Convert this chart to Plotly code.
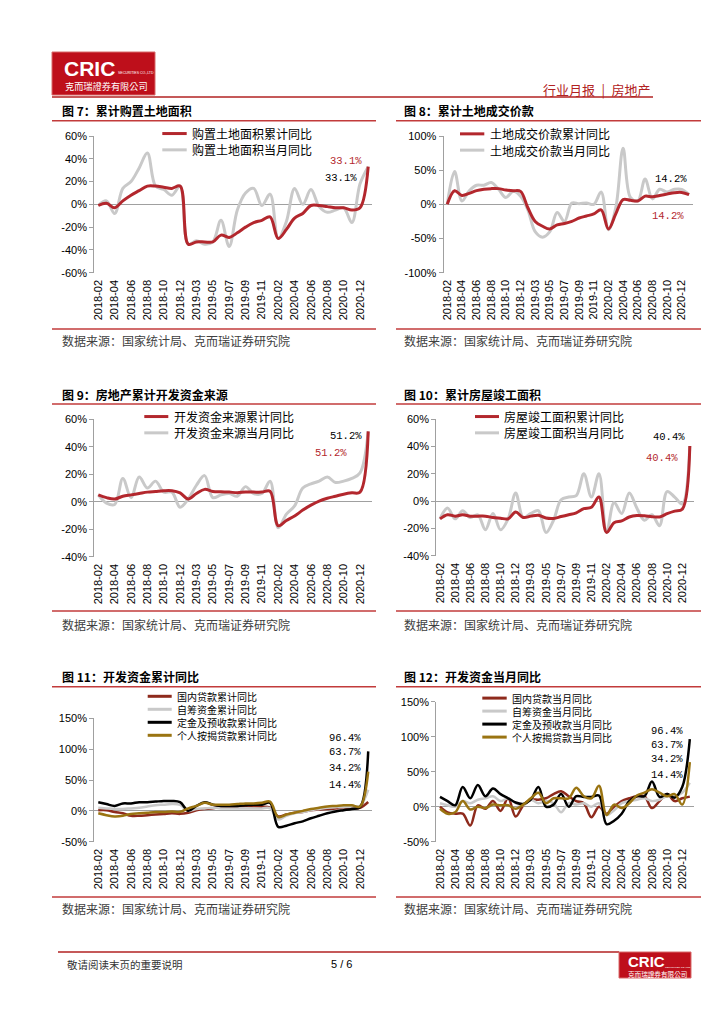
import plotly.graph_objects as go

# The page body adds an 8px offset; the figure canvas therefore covers 8..716 x 8..1016 of the window.
OX, OY = 8, 8
W, H = 708, 1008

months = ["2018-02", "2018-03", "2018-04", "2018-05", "2018-06", "2018-07", "2018-08", "2018-09",
          "2018-10", "2018-11", "2018-12",
          "2019-02", "2019-03", "2019-04", "2019-05", "2019-06", "2019-07", "2019-08", "2019-09",
          "2019-10", "2019-11", "2019-12",
          "2020-02", "2020-03", "2020-04", "2020-05", "2020-06", "2020-07", "2020-08", "2020-09",
          "2020-10", "2020-11", "2020-12",
          "2021-02"]
tick_months = months[0:33:2]

# Fig 7
c7_cum = [-1, 1, -3, 3, 8, 12, 16, 16, 15, 14, 16,
          -35, -33, -33, -33, -27, -29, -25, -20, -16, -14, -11,
          -30, -22, -12, -8, -1, -1, -2, -3, -3, -5, -3,
          33.1]
c7_mon = [-1, 3, -8, 14, 20, 32, 45, 16, 13, 8, 16,
          -35, -32, -35, -33, -14, -37, -5, 10, 14, -1, 9,
          -30, -15, 14, 0, 13, -2, -7, -5, -3, -16, 18,
          33.1]
# Fig 8
c8_cum = [0, 20, 13, 16, 20, 22, 23, 23, 21, 20, 19,
          -5, -25, -32, -36, -30, -28, -25, -20, -17, -14, -8,
          -36, -14, 7, 6, 5, 12, 11, 13, 15, 17, 17.4,
          14.2]
c8_mon = [0, 48, 5, 20, 28, 28, 32, 22, 10, 19, 12,
          -8, -40, -48, -40, -12, -25, 2, 1, 2, 0, 18,
          -37, -5, 82, 10, 5, 37, 8, 22, 18, 22, 22,
          14.2]
# Fig 9
c9_cum = [5, 3, 2, 4, 5, 6, 7, 7.5, 8, 8, 6.4,
          2, 6, 9, 7.5, 7.2, 7, 6.6, 7.1, 7, 7, 7.6,
          -17.5, -13.6, -10.4, -6.1, -2.5, 0.5, 2.5, 4, 5.5, 6.5, 7,
          51.2]
c9_mon = [5, -1, -2, 17, 3, 18, 10, 15, 7, 7, -4,
          2, 12, 19, 3, 5, 6, 4, 11, 6, 6, 15,
          -19, -9, -3, 10, 13, 15, 18, 14, 15, 17, 21,
          51.2]
# Fig 10
c10_cum = [-13, -10, -11, -10, -11, -11, -11, -12, -12.5, -13, -8,
           -12, -11, -10.3, -12.4, -12.7, -11.3, -10, -8.6, -5.5, -4.5, 3,
           -22.9, -15.8, -14.5, -11.6, -10.5, -10.7, -11.4, -11.6, -9.2, -7.3, -6,
           40.4]
c10_mon = [-13, -5, -13, -7, -12, -10, -21, -9, -21, -13, 6,
           -12, -9, -7, -23, -14, 1, 3, 4, 20, 3, 20,
           -23, -1, -9, 6, -5, -14, -10, -18, 7, 3, -2,
           40.4]
# Fig 11
c11_dom = [1, 1, -2, -4, -8, -8, -7, -6, -5, -4, -4.9,
           -3, 1, 3, 4, 7, 6, 7, 7.8, 7.5, 6.8, 5.1,
           -9, -6, -3, -2, 1, 2, 3, 4, 4, 4, 5,
           14.4]
c11_self = [5, 4, 3, 3, 4, 5, 7, 9, 10, 11, 9.7,
            0, 3, 4, 5, 4, 4, 4, 4, 4, 4, 4.2,
            -14, -8, -4, -2, 1, 3, 5, 6, 6, 7, 8,
            34.2]
c11_dep = [14, 11, 8, 12, 12, 14, 14, 15, 16, 16, 14,
           0, 8, 14, 10, 8, 8, 8, 9, 10, 10, 13,
           -26, -24, -20, -17, -12, -8, -4, -1, 1, 3, 6,
           96.4]
c11_mort = [-4, -7, -9, -8, -5, -4, -3, -2, -2, -1, -1.6,
            4, 8, 13, 10, 10, 10, 11, 12, 12, 13, 15,
            -10, -6, -3, 0, 3, 5, 7, 8, 9, 9, 7,
            63.7]
# Fig 12
c12_dom = [0, -8, -10, -10, -27, 2, -3, 8, -6, 12, -14,
           2, 10, 10, 12, 18, 22, 15, 8, 5, -15, 0,
           -10, 0, 8, 12, 15, 15, -2, 8, 18, 8, 12,
           14.4]
c12_self = [5, 2, 0, 8, 5, 10, 12, 15, 8, 12, 5,
            2, 10, 5, 8, 5, -8, 5, 3, 5, 0, 5,
            -12, -5, 5, 8, 10, 12, 8, 10, 15, 15, 20,
            34.2]
c12_dep = [14, 8, 2, 28, 12, 31, 15, 26, 18, 12, 6,
           4, 10, 28, 0, 3, 18, 0, 15, 14, 14, 16,
           -25, -20, -10, 8, 15, 15, 36, 14, 18, 13, 28,
           96.4]
c12_mort = [-3, -10, -8, 8, -4, 0, -2, 3, 2, 2, -3,
            3, 12, 20, 5, 12, 12, 12, 27, 15, 12, 30,
            -12, 3, -2, 5, 16, 20, 25, 20, 15, 18, 3,
            63.7]

RED = "#B3272D"
GRAY = "#C9C9C9"
DOMRED = "#8E2A1C"
BLACK = "#000000"
GOLD = "#9A7412"
AXIS = "#A0A0A0"
LINE_RED = "#C23B3B"
CJK = "Noto Sans CJK SC"
SANS = "Liberation Sans"
MONO = "Liberation Mono"


def px(x):
    return (x - OX) / W


def py(y):
    return 1 - (y - OY) / H


charts = [
    dict(x0=94.2, x1=372.3, yt=136.0, yb=272.7, rng=[-60, 60], ticks=[60, 40, 20, 0, -20, -40, -60],
         series=[(c7_mon, GRAY, 3, "购置土地面积当月同比"), (c7_cum, RED, 3, "购置土地面积累计同比")],
         legend=[("购置土地面积累计同比", RED), ("购置土地面积当月同比", GRAY)], leg_mid=141.7, leg_fs=12,
         leg_x=(162.3, 186.7, 190.0),
         labels=[("33.1%", RED, 345.5, 161.0), ("33.1%", BLACK, 341.0, 178.3)]),
    dict(x0=443.6, x1=692.7, yt=136.0, yb=272.7, rng=[-100, 100], ticks=[100, 50, 0, -50, -100],
         series=[(c8_mon, GRAY, 3, "土地成交价款当月同比"), (c8_cum, RED, 3, "土地成交价款累计同比")],
         legend=[("土地成交价款累计同比", RED), ("土地成交价款当月同比", GRAY)], leg_mid=142.0, leg_fs=12,
         leg_x=(460.0, 484.3, 488.3),
         labels=[("14.2%", BLACK, 671.0, 179.0), ("14.2%", RED, 667.5, 216.0)]),
    dict(x0=94.2, x1=372.3, yt=419.3, yb=556.7, rng=[-40, 60], ticks=[60, 40, 20, 0, -20, -40],
         series=[(c9_mon, GRAY, 3, "开发资金来源当月同比"), (c9_cum, RED, 3, "开发资金来源累计同比")],
         legend=[("开发资金来源累计同比", RED), ("开发资金来源当月同比", GRAY)], leg_mid=424.7, leg_fs=12,
         leg_x=(144.3, 168.3, 172.3),
         labels=[("51.2%", BLACK, 345.5, 435.7), ("51.2%", RED, 331.0, 453.3)]),
    dict(x0=436.2, x1=693.6, yt=419.3, yb=555.7, rng=[-40, 60], ticks=[60, 40, 20, 0, -20, -40],
         series=[(c10_mon, GRAY, 3, "房屋竣工面积当月同比"), (c10_cum, RED, 3, "房屋竣工面积累计同比")],
         legend=[("房屋竣工面积累计同比", RED), ("房屋竣工面积当月同比", GRAY)], leg_mid=424.7, leg_fs=12,
         leg_x=(475.0, 499.0, 501.7),
         labels=[("40.4%", BLACK, 668.5, 437.3), ("40.4%", RED, 661.7, 457.7)]),
    dict(x0=94.2, x1=372.3, yt=718.3, yb=841.7, rng=[-50, 150], ticks=[150, 100, 50, 0, -50],
         series=[(c11_dom, DOMRED, 2.5, "国内贷款累计同比"), (c11_self, GRAY, 2.5, "自筹资金累计同比"),
                 (c11_dep, BLACK, 2.5, "定金及预收款累计同比"), (c11_mort, GOLD, 2.5, "个人按揭贷款累计同比")],
         legend=[("国内贷款累计同比", DOMRED), ("自筹资金累计同比", GRAY),
                 ("定金及预收款累计同比", BLACK), ("个人按揭贷款累计同比", GOLD)], leg_mid=715.8, leg_fs=10,
         leg_x=(147.7, 171.7, 175.0),
         labels=[("96.4%", BLACK, 344.5, 738.3), ("63.7%", BLACK, 344.5, 751.7),
                 ("34.2%", BLACK, 344.5, 767.7), ("14.4%", BLACK, 344.5, 785.0)]),
    dict(x0=436.2, x1=693.6, yt=701.7, yb=841.7, rng=[-50, 150], ticks=[150, 100, 50, 0, -50],
         series=[(c12_dom, DOMRED, 2.5, "国内贷款当月同比"), (c12_self, GRAY, 2.5, "自筹资金当月同比"),
                 (c12_dep, BLACK, 2.5, "定金及预收款当月同比"), (c12_mort, GOLD, 2.5, "个人按揭贷款当月同比")],
         legend=[("国内贷款当月同比", DOMRED), ("自筹资金当月同比", GRAY),
                 ("定金及预收款当月同比", BLACK), ("个人按揭贷款当月同比", GOLD)], leg_mid=717.6, leg_fs=10,
         leg_x=(482.3, 506.7, 510.0),
         labels=[("96.4%", BLACK, 666.7, 730.7), ("63.7%", BLACK, 666.7, 745.0),
                 ("34.2%", BLACK, 666.7, 759.3), ("14.4%", BLACK, 666.7, 775.0)]),
]

titles = [("图 7：累计购置土地面积", 60, 110.7), ("图 8：累计土地成交价款", 401.7, 110.7),
          ("图 9：房地产累计开发资金来源", 60, 394.0), ("图 10：累计房屋竣工面积", 401.7, 394.0),
          ("图 11：开发资金累计同比", 60, 676.7), ("图 12：开发资金当月同比", 401.7, 676.7)]
source_text = "数据来源：国家统计局、克而瑞证券研究院"

fig = go.Figure()
shapes = []
annotations = []
layout = dict(width=W, height=H, margin=dict(l=0, r=0, t=0, b=0),
              paper_bgcolor="white", plot_bgcolor="white", showlegend=False)

for i, c in enumerate(charts, start=1):
    xa = "x" if i == 1 else f"x{i}"
    ya = "y" if i == 1 else f"y{i}"
    for vals, color, width, name in c["series"]:
        fig.add_trace(go.Scatter(x=months, y=vals, mode="lines", name=name,
                                 line=dict(color=color, width=width, shape="spline", smoothing=1.0),
                                 xaxis=xa, yaxis=ya, hoverinfo="skip"))
    layout["xaxis" if i == 1 else f"xaxis{i}"] = dict(
        type="category", categoryorder="array", categoryarray=months,
        range=[-0.5, len(months) - 0.5], domain=[px(c["x0"]), px(c["x1"])], anchor=ya,
        tickmode="array", tickvals=tick_months, ticktext=tick_months, tickangle=-90,
        tickfont=dict(family=SANS, size=11, color="#000"), ticks="", showline=False,
        showgrid=False, zeroline=False, automargin=False, ticklabelstandoff=4)
    layout["yaxis" if i == 1 else f"yaxis{i}"] = dict(
        range=c["rng"], domain=[py(c["yb"]), py(c["yt"])], anchor=xa,
        tickmode="array", tickvals=c["ticks"], ticktext=[f"{v}%" for v in c["ticks"]],
        tickfont=dict(family=SANS, size=11, color="#000"),
        showline=True, linecolor=AXIS, linewidth=1, ticks="outside", ticklen=4, tickcolor=AXIS,
        showgrid=False, zeroline=True, zerolinecolor=AXIS, zerolinewidth=1, automargin=False)
    # legend: one text block, sample lines aligned with its rows
    lx0, lx1, tx = c["leg_x"]
    n = len(c["legend"])
    step = 1.3 * c["leg_fs"] if n > 2 else 16.3
    if n > 2:
        annotations.append(dict(text="<br>".join(t for t, _ in c["legend"]), xref="paper", yref="paper",
                                x=px(tx), y=py(c["leg_mid"]), xanchor="left", yanchor="middle",
                                align="left", showarrow=False,
                                font=dict(family=CJK, size=c["leg_fs"], color="#000")))
    for k, (text, color) in enumerate(c["legend"]):
        yy = c["leg_mid"] + (k - (n - 1) / 2) * step
        shapes.append(dict(type="line", xref="paper", yref="paper", x0=px(lx0), x1=px(lx1),
                           y0=py(yy), y1=py(yy), line=dict(color=color, width=3)))
        if n <= 2:
            annotations.append(dict(text=text, xref="paper", yref="paper", x=px(tx), y=py(yy),
                                    xanchor="left", yanchor="middle", showarrow=False,
                                    font=dict(family=CJK, size=c["leg_fs"], color="#000")))
    for text, color, cx, cy in c["labels"]:
        annotations.append(dict(text=text, xref="paper", yref="paper", x=px(cx), y=py(cy),
                                xanchor="center", yanchor="middle", showarrow=False,
                                font=dict(family=MONO, size=10.5, color=color)))

# titles
for text, x, y in titles:
    annotations.append(dict(text=f"<b>{text}</b>", xref="paper", yref="paper", x=px(x), y=py(y),
                            xanchor="left", yanchor="middle", showarrow=False,
                            font=dict(family=CJK, size=12, color="#000")))

# section separator lines and source notes
for (lx0, lx1, sx) in [(52, 376, 60), (396, 701, 401.7)]:
    for y in [120.7, 404.0, 686.7]:
        shapes.append(dict(type="line", xref="paper", yref="paper", x0=px(lx0), x1=px(lx1),
                           y0=py(y), y1=py(y), line=dict(color=LINE_RED, width=1.5)))
    for y, ty in [(329.0, 340.5), (611.0, 624.5), (897.0, 908.0)]:
        shapes.append(dict(type="line", xref="paper", yref="paper", x0=px(lx0), x1=px(lx1),
                           y0=py(y), y1=py(y), line=dict(color=LINE_RED, width=1.5)))
        annotations.append(dict(text=source_text, xref="paper", yref="paper", x=px(sx), y=py(ty),
                                xanchor="left", yanchor="middle", showarrow=False,
                                font=dict(family=CJK, size=12, color="#404040")))

# header
shapes.append(dict(type="rect", xref="paper", yref="paper", x0=px(52), x1=px(155), y0=py(95), y1=py(52),
                   fillcolor="#BE0F1B", line=dict(color="#D86A6A", width=1)))
annotations.append(dict(text="<b>CRIC</b>", xref="paper", yref="paper", x=px(62), y=py(68),
                        xanchor="left", yanchor="middle", showarrow=False,
                        font=dict(family=SANS, size=21, color="white")))
annotations.append(dict(text="SECURITIES CO.,LTD", xref="paper", yref="paper", x=px(116), y=py(73.5),
                        xanchor="left", yanchor="middle", showarrow=False,
                        font=dict(family=SANS, size=3.5, color="white")))
annotations.append(dict(text="克而瑞證券有限公司", xref="paper", yref="paper", x=px(62.5), y=py(85.5),
                        xanchor="left", yanchor="middle", showarrow=False,
                        font=dict(family="Noto Sans CJK TC", size=9.2, color="white")))
shapes.append(dict(type="line", xref="paper", yref="paper", x0=px(52), x1=px(653), y0=py(97), y1=py(97),
                   line=dict(color="#B22222", width=1.5)))
annotations.append(dict(text="行业月报\u2002|\u2002房地产", xref="paper", yref="paper", x=px(653), y=py(89.5),
                        xanchor="right", yanchor="middle", showarrow=False,
                        font=dict(family=CJK, size=13, color="#B22222")))

# footer
shapes.append(dict(type="line", xref="paper", yref="paper", x0=px(58), x1=px(619), y0=py(952), y1=py(952),
                   line=dict(color="#B22222", width=1.5)))
annotations.append(dict(text="敬请阅读末页的重要说明", xref="paper", yref="paper", x=px(65), y=py(964),
                        xanchor="left", yanchor="middle", showarrow=False,
                        font=dict(family=CJK, size=10.5, color="#333")))
annotations.append(dict(text="5 / 6", xref="paper", yref="paper", x=px(341.5), y=py(964),
                        xanchor="center", yanchor="middle", showarrow=False,
                        font=dict(family=SANS, size=11, color="#000")))
shapes.append(dict(type="rect", xref="paper", yref="paper", x0=px(619), x1=px(691), y0=py(978), y1=py(952),
                   fillcolor="#BE0F1B", line=dict(color="#D86A6A", width=1)))
annotations.append(dict(text="<b>CRIC</b>", xref="paper", yref="paper", x=px(626), y=py(961.5),
                        xanchor="left", yanchor="middle", showarrow=False,
                        font=dict(family=SANS, size=15, color="white")))
annotations.append(dict(text="SECURITIES CO.,LTD", xref="paper", yref="paper", x=px(663), y=py(967),
                        xanchor="left", yanchor="middle", showarrow=False,
                        font=dict(family=SANS, size=2.5, color="white")))
annotations.append(dict(text="克而瑞證券有限公司", xref="paper", yref="paper", x=px(626), y=py(974),
                        xanchor="left", yanchor="middle", showarrow=False,
                        font=dict(family="Noto Sans CJK TC", size=6.6, color="white")))

layout["shapes"] = shapes
layout["annotations"] = annotations
fig.update_layout(**layout)
fig.write_html("out.html")
